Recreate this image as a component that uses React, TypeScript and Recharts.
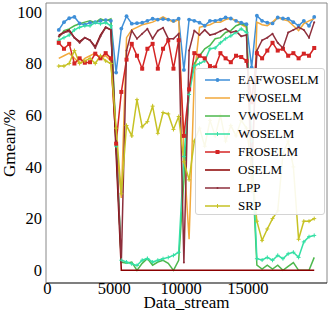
import React from 'react';
import { LineChart, Line, XAxis, YAxis, Legend, ReferenceLine } from 'recharts';

const xs = [850, 1240, 1630, 2020, 2410, 2800, 3190, 3580, 3970, 4360, 4750, 5140, 5530, 5920, 6310, 6700, 7090, 7480, 7870, 8260, 8650, 9040, 9430, 9820, 10210, 10600, 10990, 11380, 11770, 12160, 12550, 12940, 13330, 13720, 14110, 14500, 14890, 15280, 15670, 16060, 16450, 16840, 17230, 17620, 18010, 18400, 18790, 19180, 19570, 19960];

const eafwoselm = [93, 96, 97.5, 98, 95.5, 95, 95.8, 96, 96.5, 96.8, 96.5, 76.5, 93.5, 98.3, 95.4, 95.6, 95.8, 96.5, 97.3, 97, 97.2, 97, 96.5, 97.3, 77.5, 97, 96.5, 95.8, 94.6, 96.5, 96.5, 97, 97.8, 97.4, 96.5, 95.8, 95.2, 78.5, 98.5, 96.5, 95.8, 95.5, 97.8, 97.4, 97.3, 96, 94.6, 96.5, 94.6, 98];
const fwoselm = [82, 83, 84, 82, 80, 82, 83, 84, 82, 83, 81, 50, 28, 90, 93, 94, 95, 95.5, 96, 97, 98, 97, 96, 97, 44, 12, 75, 94, 94.5, 95, 96, 96, 97, 97.5, 96.5, 95, 94, 30, 96, 95, 94.6, 96, 97.8, 97, 96.5, 94.6, 92.7, 95.4, 96.5, 97.3];
const vwoselm = [90, 92.7, 93.4, 94.6, 95.4, 96, 96.5, 95.8, 97.3, 96.5, 97.3, 50, 3.2, 2.7, 3.2, 0, 2.7, 4.6, 2, 3.2, 3.9, 2.7, 0, 3.9, 35, 70, 80, 83, 85.7, 87, 89.6, 90, 92, 92.7, 94.6, 95.4, 94.6, 45, 2, 0.5, 2, 0.5, 2, 0, 1.5, 3, 0, 0, 0, 5];
const woselm = [89, 90, 91, 93, 94, 94.6, 94.6, 95.8, 95.4, 95.8, 94.6, 48, 3.9, 3.2, 2.5, 1.9, 3.9, 4.6, 3.2, 3.9, 4.5, 5, 5.8, 7, 44, 68, 79, 80, 81, 85.7, 86, 88, 89.6, 90.7, 92, 93.4, 92, 50, 4.5, 4, 5, 3.9, 5.8, 4.5, 6.4, 7, 5, 11, 13, 13.5];
const froselm = [88, 85.7, 87.6, 80, 82, 80.3, 80.5, 83.8, 82, 84, 82, 49, 69, 81.5, 87.6, 83, 78, 85.7, 87.6, 78, 85.7, 89, 78, 89, 52, 70, 84, 83, 82, 79, 78.5, 84, 82, 80.5, 83, 82.5, 81, 65, 84, 82, 85, 88, 85, 85.7, 83, 84, 82, 83.8, 83, 86];
const oselm = [91, 92, 93, 90, 88.5, 90, 89, 86.5, 91, 94, 93, 45, 0, 0, 0, 0, 0, 0, 0, 0, 0, 0, 0, 0, 0, 0, 0, 0, 0, 0, 0, 0, 0, 0, 0, 0, 0, 0, 0, 0, 0, 0, 0, 0, 0, 0, 0, 0, 0, 0];
const lpp = [90.5, 92, 92.5, 90, 88, 90, 89, 86, 90.5, 94, 93, 50, 3, 85, 92.7, 89.6, 91.5, 93.4, 89.6, 92.7, 93.8, 89.6, 89.6, 91.5, 3, 85, 92.7, 91, 93, 91, 91.5, 92.5, 93.4, 92, 92.5, 90.5, 91, 40, 85, 89, 90, 91.5, 88, 86, 92, 93, 94, 93, 90, 96];
const srp = [79, 79, 80, 85, 80, 81, 82, 80, 83, 81, 80, 55, 29.6, 56, 52, 66, 55.5, 57.5, 63.5, 53, 61, 60.5, 54.5, 59.5, 42, 35, 50, 55, 48, 58, 52, 60, 50, 56, 52, 58, 55, 40, 19, 11.6, 16, 20, 23, 45, 50, 40, 12, 19, 19, 20];

const xTicks = [0, 5000, 10000, 15000];
const yTicks = [0, 20, 40, 60, 80, 100];
const seriesNames = ['EAFWOSELM', 'FWOSELM', 'VWOSELM', 'WOSELM', 'FROSELM', 'OSELM', 'LPP', 'SRP'];
const seriesValues = [eafwoselm, fwoselm, vwoselm, woselm, froselm, oselm, lpp, srp];
const colors = ['#3f8fd8', '#f2a93b', '#4db84d', '#35e0a5', '#d42424', '#8b0000', '#8e2f3c', '#c6c224'];
const markers = ['dot', 'none', 'none', 'plus', 'square', 'none', 'tiny', 'plus'];

const data = xs.map((x, i) => {
  const row: Record<string, number> = { x };
  seriesNames.forEach((n, k) => {
    row[n] = seriesValues[k][i];
  });
  return row;
});

const FONT = '"Liberation Serif", "Times New Roman", serif';

function makeDot(kind: string, color: string) {
  if (kind === 'none') return false;
  return (props: any) => {
    const { cx, cy, index } = props;
    if (cx == null || cy == null) return <g key={`d${index}`} />;
    if (kind === 'dot') return <circle key={`d${index}`} cx={cx} cy={cy} r={1.9} fill={color} stroke="none" />;
    if (kind === 'square') return <rect key={`d${index}`} x={cx - 2} y={cy - 2} width={4} height={4} fill={color} />;
    if (kind === 'plus')
      return (
        <g key={`d${index}`} stroke={color} strokeWidth={1}>
          <line x1={cx - 2} x2={cx + 2} y1={cy} y2={cy} />
          <line x1={cx} x2={cx} y1={cy - 2} y2={cy + 2} />
        </g>
      );
    return <circle key={`d${index}`} cx={cx} cy={cy} r={1} fill={color} />;
  };
}

function LegendMarker({ kind, color }: { kind: string; color: string }) {
  const cx = 17.5;
  const cy = 9;
  if (kind === 'dot') return <circle cx={cx} cy={cy} r={1.9} fill={color} />;
  if (kind === 'square') return <rect x={cx - 2} y={cy - 2} width={4} height={4} fill={color} />;
  if (kind === 'plus')
    return (
      <g stroke={color} strokeWidth={1}>
        <line x1={cx} x2={cx} y1={cy - 2} y2={cy + 2} />
      </g>
    );
  if (kind === 'tiny') return <circle cx={cx} cy={cy} r={1} fill={color} />;
  return null;
}

const renderLegend = () => (
  <div
    style={{
      width: 130,
      height: 147,
      background: 'rgba(255,255,255,0.9)',
      border: '1px solid #d4d4d4',
      borderRadius: 3,
      boxSizing: 'border-box',
      fontFamily: FONT,
      fontSize: 13,
      color: '#000',
      position: 'relative',
    }}
  >
    {seriesNames.map((n, k) => (
      <div
        key={n}
        style={{ position: 'absolute', left: 4, top: 2 + 18 * k, height: 18, display: 'flex', alignItems: 'center' }}
      >
        <svg width={36} height={18} style={{ display: 'block' }}>
          <line x1={5} x2={30} y1={9} y2={9} stroke={colors[k]} strokeWidth={1.5} />
          <LegendMarker kind={markers[k]} color={colors[k]} />
        </svg>
        <span style={{ marginLeft: 2, lineHeight: '18px', whiteSpace: 'nowrap' }}>{n}</span>
      </div>
    ))}
  </div>
);

export default function App() {
  return (
    <div style={{ position: 'absolute', left: 0, top: 0, width: 330, height: 323, background: '#fff' }}>
      <LineChart width={330} height={323} data={data} margin={{ top: 3, right: 3, left: 0, bottom: 0 }}>
        <XAxis
          dataKey="x"
          type="number"
          domain={[-105, 20915]}
          ticks={xTicks}
          allowDataOverflow
          tickLine={false}
          tickSize={0}
          tickMargin={-1}
          height={40}
          axisLine={{ stroke: '#000', strokeWidth: 1.2 }}
          tick={{ fill: '#000', fontSize: 16.5, fontFamily: FONT }}
          label={{
            content: (p: any) => {
              const vb = p.viewBox || { x: 46, y: 283, width: 281, height: 40 };
              return (
                <text x={vb.x + vb.width / 2} y={vb.y + 25} textAnchor="middle" fontFamily={FONT} fontSize={17} fill="#000">
                  Data_stream
                </text>
              );
            },
          }}
        />
        <YAxis
          type="number"
          domain={[-4.9, 103.4]}
          ticks={yTicks}
          allowDataOverflow
          tickLine={false}
          tickSize={0}
          tickMargin={4}
          width={46}
          axisLine={{ stroke: '#888', strokeWidth: 1 }}
          tick={{ fill: '#000', fontSize: 16.5, fontFamily: FONT }}
          label={{
            content: (p: any) => {
              const vb = p.viewBox || { x: 0, y: 3, width: 46, height: 280 };
              const cx = vb.x + 9;
              const cy = vb.y + vb.height / 2;
              return (
                <text
                  x={cx}
                  y={cy}
                  transform={`rotate(-90, ${cx}, ${cy})`}
                  textAnchor="middle"
                  dominantBaseline="central"
                  fontFamily={FONT}
                  fontSize={17}
                  fill="#000"
                >
                  Gmean/%
                </text>
              );
            },
          }}
        />
        <ReferenceLine y={103.4} stroke="#888" strokeWidth={1} />
        <ReferenceLine x={20915} stroke="#888" strokeWidth={1} />
        {seriesNames.map((n, k) => (
          <Line
            key={n}
            type="linear"
            dataKey={n}
            stroke={colors[k]}
            strokeWidth={1.5}
            dot={makeDot(markers[k], colors[k]) as any}
            activeDot={false}
            isAnimationActive={false}
          />
        ))}
        <Legend
          layout="vertical"
          align="center"
          verticalAlign="middle"
          content={renderLegend}
          wrapperStyle={{ position: 'absolute', left: 195, top: 68, width: 130, height: 147 }}
        />
      </LineChart>
    </div>
  );
}
